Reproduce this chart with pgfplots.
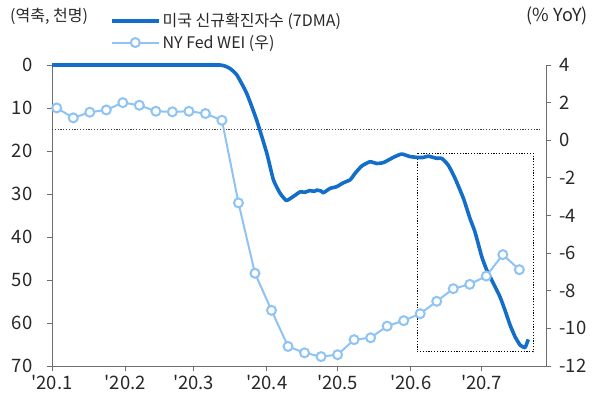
\documentclass[border=0pt]{standalone}
\usepackage{pgfplots}
\pgfplotsset{compat=1.18}
\usepackage{fontspec}
\setmainfont{Noto Sans CJK KR}[Ligatures=TeXOff]
\definecolor{dblue}{RGB}{18,110,200}
\definecolor{lblue}{RGB}{143,195,243}
\definecolor{txt}{RGB}{40,40,40}
\definecolor{axgray}{RGB}{110,110,110}

\pgfplotstableread{
d v
0 0
20 0
40 0
60 0
71.2 0
73.5 0.3
75.4 0.8
78.3 2.3
82.5 6.6
86.7 12.8
91.0 20.5
93.8 26.7
96.6 29.8
99.2 31.5
100.8 31.1
102.2 30.6
105.1 29.5
107.0 29.6
109.3 29.2
111.0 29.4
112.2 29.1
114.0 29.3
115.0 29.7
117.8 28.7
120.6 28.3
123.4 27.4
126.3 26.7
128.4 25.2
131.2 23.5
134.7 22.5
137.6 22.9
140.4 22.7
143.2 21.9
145.3 21.3
148.2 20.7
151.7 21.3
155.2 21.5
157.3 21.5
159.4 21.2
163.0 21.7
165.1 21.7
167.9 23.3
170.8 26.4
174.3 31.0
177.1 35.7
179.2 38.8
182.1 44.6
184.2 47.7
187.0 50.8
189.8 53.9
191.9 57.0
194.1 60.5
196.2 63.2
198.3 65.1
200.4 65.7
201.8 63.8
}\cases

\pgfplotstableread{
d v
2 1.72
9 1.19
16 1.49
23 1.61
30 2.00
37 1.86
44 1.54
51 1.51
58 1.54
65 1.42
72 1.06
79 -3.33
86 -7.07
93 -9.04
100 -10.96
107 -11.30
114 -11.50
121 -11.40
128 -10.60
135 -10.50
142 -9.88
149 -9.59
156 -9.22
163 -8.56
170 -7.89
177 -7.66
184 -7.22
191 -6.08
198 -6.88
}\wei

\begin{document}
\begin{tikzpicture}
\pgfplotsset{
  common/.style={
    scale only axis, width=494pt, height=301pt,
    at={(52pt,39pt)}, anchor=south west,
    xmin=0, xmax=209.3,
    clip=false,
    /pgf/number format/assume math mode=true,
    ticklabel style={font=\fontsize{18.5}{21}\selectfont, text=txt},
    tick align=outside,
    major tick length=5pt,
    tick style={axgray, line width=0.8pt},
    axis line style={axgray, line width=1pt},
  }
}
\begin{axis}[common,
  axis y line*=left, axis x line*=bottom,
  y dir=reverse, ymin=0, ymax=70,
  ytick={0,10,...,70},
  xtick={0,31,60,91,121,152,182},
  xticklabels={'20.1,'20.2,'20.3,'20.4,'20.5,'20.6,'20.7},
  xticklabel style={yshift=-1pt},
  yticklabel style={xshift=-11pt},
]
\draw[black!75, dash pattern=on 1.2pt off 1.6pt, line width=0.9pt] (axis cs:0,15) -- (axis cs:207.2,15);
\draw[black, dash pattern=on 1.2pt off 1.6pt, line width=0.9pt] (axis cs:154.7,20.5) rectangle (axis cs:203.8,66.7);
\addplot[dblue, line width=3.6pt, line join=round, smooth, tension=0.3] table[x=d,y=v] {\cases};
\end{axis}
\begin{axis}[common,
  axis y line*=right, axis x line=none,
  ymin=-12, ymax=4, ytick={-12,-10,...,4},
  yticklabel style={xshift=5pt},
  legend style={draw=none, fill=none, at={(axis description cs:0.117,1.043)}, anchor=south west,
    font=\fontsize{16}{19}\selectfont, text=txt, inner sep=0pt,
    row sep=3pt, cells={anchor=west, inner sep=1.5pt}},
  legend cell align=left,
]
\addlegendimage{dblue, line width=3.6pt, legend image code/.code={\draw[dblue, line width=3.6pt] (0pt,0pt) -- (47pt,0pt);}}
\addlegendentry{미국 신규확진자수 (7DMA)}
\addplot[lblue, line width=2pt, mark=*, mark size=4.5pt, mark options={fill=white, draw=lblue, line width=2pt},
  legend image code/.code={\draw[lblue, line width=2pt] (0pt,0pt) -- (47pt,0pt); \draw[lblue, fill=white, line width=2pt] (23.5pt,0pt) circle (4.5pt);}]
  table[x=d,y=v] {\wei};
\addlegendentry{NY Fed WEI (우)}
\end{axis}
\node[anchor=west, text=txt, font=\fontsize{16}{19}\selectfont, inner sep=0pt] at (10pt,389pt) {(역축, 천명)};
\node[anchor=east, text=txt, font=\fontsize{18}{21}\selectfont, inner sep=0pt] at (588pt,389pt) {(\% YoY)};
\pgfresetboundingbox
\path (0pt,0pt) rectangle (599pt,405pt);
\end{tikzpicture}
\end{document}
